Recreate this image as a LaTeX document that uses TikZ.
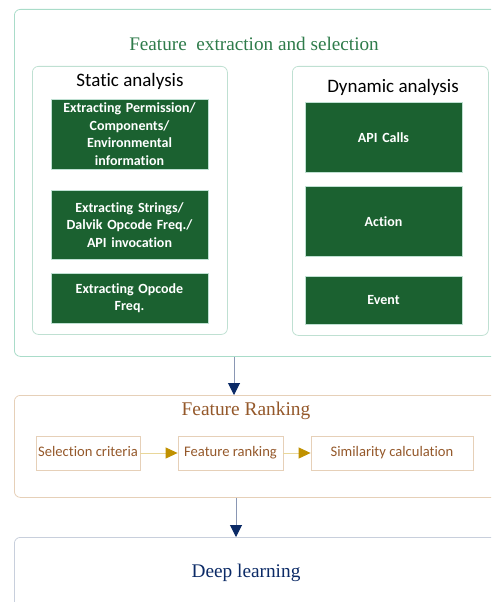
\documentclass[tikz,border=0pt]{standalone}
\usepackage{fontspec}
\setmainfont{Liberation Serif}
\newfontfamily\calfont[Ligatures=NoCommon]{Carlito}
\usetikzlibrary{arrows.meta,positioning}
\definecolor{mint}{HTML}{A9DCC9}
\definecolor{mintlight}{HTML}{BFE0D2}
\definecolor{leaf}{HTML}{1B6130}
\definecolor{titlegreen}{HTML}{2E7B4A}
\definecolor{tan}{HTML}{E6D0B8}
\definecolor{rankbrown}{HTML}{94582A}
\definecolor{gold}{HTML}{C09100}
\definecolor{goldline}{HTML}{E9D79A}
\definecolor{navy}{HTML}{0B2A66}
\definecolor{navyline}{HTML}{8A97B4}
\definecolor{steel}{HTML}{C8CFDC}
\begin{document}
\begin{tikzpicture}[x=1pt,y=-1pt,
  panel/.style={rectangle, rounded corners=6pt, line width=0.8pt, anchor=north west, inner sep=0pt},
  subpanel/.style={rectangle, rounded corners=6pt, draw=mintlight, line width=0.8pt, anchor=north west, inner sep=0pt},
  leafbox/.style={rectangle, fill=leaf, draw=mintlight, line width=0.5pt, text=white, font=\calfont\bfseries\fontsize{14}{17.5}\selectfont,
      align=center, minimum width=157pt, text width=154pt, inner sep=0pt},
  rankbox/.style={rectangle, draw=tan, line width=0.8pt, text=rankbrown, font=\calfont\fontsize{14.6}{16}\selectfont,
      minimum height=34pt, text height=10pt, text depth=3pt, inner sep=1pt},
  goldarrow/.style={draw=goldline, line width=1pt, -{Triangle[length=12pt,width=11pt,color=gold]}},
  navyarrow/.style={draw=navyline, line width=1pt, -{Triangle[length=12pt,width=12pt,color=navy]}}
]
\useasboundingbox (0,0) rectangle (491,602);
\clip (0,0) rectangle (491,602);

% extraction stage
\node[panel, draw=mint, minimum width=506pt, minimum height=347pt] (extract) at (14,9) {};
\node[text=titlegreen, font=\fontsize{19.2}{21}\selectfont] (extracttitle) at (254,44) {Feature\ \ extraction and selection};

\node[subpanel, minimum width=195pt, minimum height=268pt] (static) at (32,66) {};
\node[font=\calfont\fontsize{19}{21}\selectfont] (statictitle) at (130,81) {Static analysis};
\node[leafbox, minimum height=70pt, anchor=north] (perm) at (129.5,99) {Extracting Permission/\\ Components/\\ Environmental\\ information};
\node[leafbox, minimum height=69pt, anchor=north] (strings) at (129.5,190) {Extracting Strings/\\ Dalvik Opcode Freq./\\ API invocation};
\node[leafbox, minimum height=50pt, anchor=north] (opcode) at (129.5,273) {Extracting Opcode\\ Freq.};

\node[subpanel, minimum width=196pt, minimum height=269pt] (dynamic) at (292,66) {};
\node[font=\calfont\fontsize{19}{21}\selectfont] (dynamictitle) at (393,87) {Dynamic analysis};
\node[leafbox, minimum height=70pt, anchor=north] (apicalls) at (383.5,102) {API Calls};
\node[leafbox, minimum height=70pt, anchor=north] (action) at (383.5,186) {Action};
\node[leafbox, minimum height=48pt, anchor=north] (event) at (383.5,276) {Event};

% ranking stage
\node[panel, draw=tan, minimum width=506pt, minimum height=102pt] (rank) at (14,395) {};
\node[text=rankbrown, font=\fontsize{19.4}{21}\selectfont] (ranktitle) at (246,411) {Feature Ranking};
\node[rankbox, minimum width=104pt] (criteria) at (88,453) {Selection criteria};
\node[rankbox, minimum width=105pt] (ranking) at (230.5,453) {Feature ranking};
\node[rankbox, minimum width=162pt] (similarity) at (392,453) {Similarity calculation};
\draw[goldarrow] (criteria) -- (ranking);
\draw[goldarrow] (ranking) -- (similarity);

% learning stage
\node[panel, draw=steel, minimum width=506pt, minimum height=103pt] (deep) at (14,537) {};
\node[text=navy, font=\fontsize{19.3}{21}\selectfont] (deeptitle) at (246,573) {Deep learning};

% stage links
\coordinate (linkone) at (234,0);
\coordinate (linktwo) at (236,0);
\draw[navyarrow] (extract.south -| linkone) -- (rank.north -| linkone);
\draw[navyarrow] (rank.south -| linktwo) -- (deep.north -| linktwo);
\end{tikzpicture}
\end{document}
